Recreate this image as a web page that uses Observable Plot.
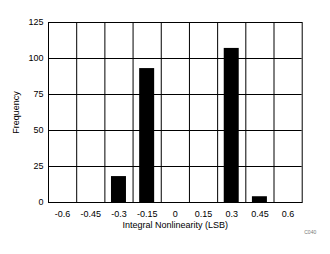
<!DOCTYPE html>
<html>
<head>
<meta charset="utf-8">
<script src="https://cdn.jsdelivr.net/npm/d3@7"></script>
<script src="https://cdn.jsdelivr.net/npm/@observablehq/plot@0.6"></script>
<style>
  body { margin: 0; background: #fff; }
  svg { font-family: "Liberation Sans", Arial, sans-serif; }
</style>
</head>
<body>
<div id="chart"></div>
<script>
const binCenters = [-0.6, -0.45, -0.3, -0.15, 0, 0.15, 0.3, 0.45, 0.6];
const frequency = [0, 0, 18, 93, 0, 0, 107, 4, 0];
const binWidth = 0.15;
const yTicks = [0, 25, 50, 75, 100, 125];
const tickLabels = ["-0.6", "-0.45", "-0.3", "-0.15", "0", "0.15", "0.3", "0.45", "0.6"];

const bins = binCenters.map((c, i) => ({x1: c - binWidth / 2, x2: c + binWidth / 2, x: c, y: frequency[i]}));
const edges = binCenters.map(c => c - binWidth / 2).concat([binCenters[binCenters.length - 1] + binWidth / 2]);

const chart = Plot.plot({
  width: 330,
  height: 254,
  marginLeft: 48,
  marginRight: 28.3,
  marginTop: 22,
  marginBottom: 52,
  style: {fontSize: "9px", fontFamily: "'Liberation Sans', Arial, sans-serif", color: "#000", background: "#fff"},
  x: {domain: [edges[0], edges[edges.length - 1]]},
  y: {domain: [0, 125]},
  marks: [
    Plot.ruleY(yTicks.slice(1, -1), {stroke: "#000", strokeWidth: 1, strokeOpacity: 1}),
    Plot.ruleX(edges.slice(1, -1), {stroke: "#000", strokeWidth: 1, strokeOpacity: 1}),
    Plot.rectY(bins.filter(d => d.y > 0), {x1: "x1", x2: "x2", y: "y", fill: "#000", insetLeft: 6.6, insetRight: 6.6}),
    Plot.frame({stroke: "#000", strokeWidth: 1}),
    Plot.axisY({ticks: yTicks, tickSize: 0, tickPadding: 5, label: "Frequency", labelAnchor: "center", labelArrow: "none", labelOffset: 36, fill: "#000"}),
    Plot.axisX({ticks: binCenters, tickFormat: (d, i) => tickLabels[i], tickSize: 0, tickPadding: 8, label: "Integral Nonlinearity (LSB)", labelAnchor: "center", labelArrow: "none", labelOffset: 25, fill: "#000"}),
    Plot.text(["C040"], {frameAnchor: "bottom-right", dx: 14, dy: 31, textAnchor: "end", fontSize: 5, fill: "#777"})
  ]
});
document.getElementById("chart").appendChild(chart);
</script>
</body>
</html>
